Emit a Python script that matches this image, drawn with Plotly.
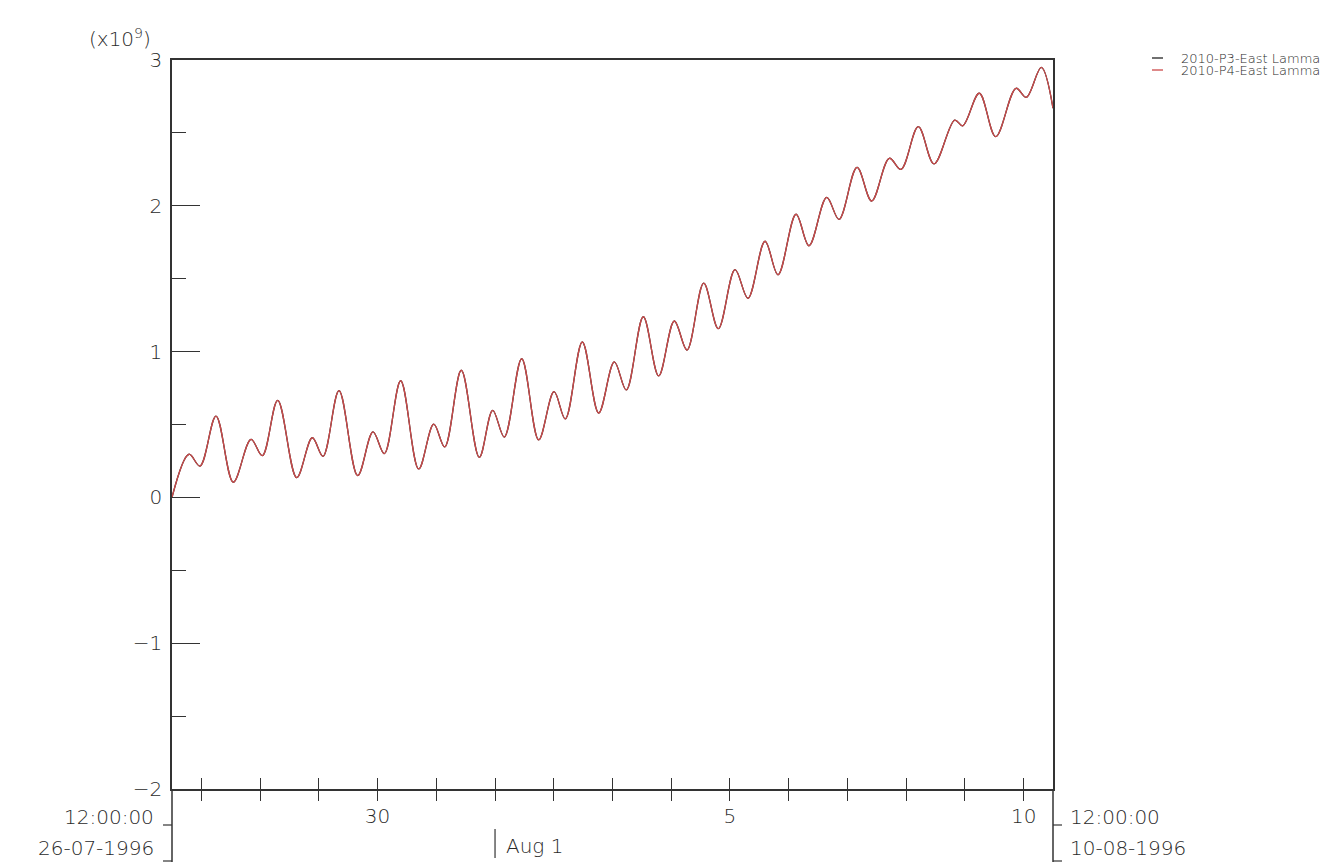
import pandas as pd
import plotly.graph_objects as go

# ---- data ----
start_time = "1996-07-26 12:00:00"
end_time = "1996-08-10 12:00:00"
# hours since start, at turning points of the tidal curve
hours = [0.0, 6.95, 11.44, 17.98, 25.05, 32.28, 36.90, 43.19, 50.96, 57.33,
         61.70, 68.24, 75.88, 82.13, 86.75, 93.45, 100.81, 106.94, 111.43, 118.22,
         125.57, 131.05, 135.79, 142.90, 149.84, 156.10, 160.72, 167.66, 174.36, 180.74,
         185.64, 192.59, 198.88, 205.26, 210.44, 217.27, 223.24, 230.06, 235.37, 242.32,
         247.63, 254.99, 260.30, 267.53, 272.56, 279.91, 285.92, 293.11, 297.89, 304.96,
         311.38, 319.84, 323.10, 329.89, 336.59, 344.88, 349.09, 355.22, 360.0]
# values in units of 1e9
p3_values = [0.000, 0.296, 0.215, 0.558, 0.104, 0.398, 0.286, 0.666, 0.135, 0.409,
             0.282, 0.732, 0.149, 0.449, 0.300, 0.800, 0.195, 0.503, 0.346, 0.872,
             0.275, 0.597, 0.414, 0.951, 0.394, 0.725, 0.538, 1.066, 0.579, 0.929,
             0.737, 1.239, 0.833, 1.210, 1.011, 1.470, 1.157, 1.562, 1.366, 1.757,
             1.527, 1.942, 1.726, 2.058, 1.907, 2.264, 2.033, 2.326, 2.250, 2.543,
             2.287, 2.588, 2.549, 2.772, 2.474, 2.806, 2.744, 2.950, 2.669]
p4_values = list(p3_values)
series_names = ["2010-P3-East Lamma", "2010-P4-East Lamma"]
series_colors = ["#222222", "#cc4a4a"]

y_ticks = [-2, -1, 0, 1, 2, 3]
y_ticktext = ["\u22122", "\u22121", "0", "1", "2", "3"]
x_tick_days = pd.date_range("1996-07-27", "1996-08-10", freq="D")
x_labelled_days = {30: "30", 5: "5", 10: "10"}

# ---- figure ----
base = pd.Timestamp(start_time)
times = base + pd.to_timedelta(hours, unit="h")

FONT = "DejaVu Sans"
AX = "#333333"
TXT = "#2a2a2a"
TF = dict(family=FONT, size=20, color=TXT, weight=300)

fig = go.Figure()
for name, vals, col in zip(series_names, [p3_values, p4_values], series_colors):
    fig.add_trace(go.Scatter(x=times, y=vals, mode="lines", name=name,
                             line=dict(color=col, width=1.3, shape="spline", smoothing=1.0),
                             showlegend=False))

ticktext = [x_labelled_days.get(d.day, "") for d in x_tick_days]

# page has an 8px body margin: shrink the figure so the plot lands where the reference has it
OFF = 8
fig.update_layout(
    width=1338 - OFF, height=865 - OFF,
    margin=dict(l=172 - OFF, r=285, t=60 - OFF, b=76),
    paper_bgcolor="white", plot_bgcolor="white",
    font=TF,
    xaxis=dict(type="date", range=[start_time, end_time], showgrid=False, zeroline=False,
               showline=True, linecolor=AX, linewidth=1.5, mirror=True,
               tickmode="array", tickvals=list(x_tick_days), ticktext=ticktext,
               ticks="inside", ticklen=11, tickwidth=1.2, tickcolor=AX,
               tickfont=TF, ticklabelstandoff=8),
    xaxis2=dict(type="date", range=[start_time, end_time], overlaying="x", side="bottom",
                showgrid=False, zeroline=False, showline=False,
                tickmode="array", tickvals=list(x_tick_days), showticklabels=False,
                ticks="outside", ticklen=11, tickwidth=1.2, tickcolor=AX),
    yaxis=dict(range=[-2, 3], showgrid=False, zeroline=False,
               showline=True, linecolor=AX, linewidth=1.5, mirror=True,
               tickmode="array", tickvals=y_ticks, ticktext=y_ticktext,
               ticks="inside", ticklen=28, tickwidth=1.2, tickcolor=AX,
               minor=dict(tickmode="linear", tick0=-2, dtick=0.5, ticks="inside",
                          ticklen=14, tickwidth=1.2, tickcolor=AX),
               tickfont=TF, ticklabelstandoff=4),
)
# invisible trace to activate xaxis2
fig.add_trace(go.Scatter(x=[start_time], y=[None], xaxis="x2", showlegend=False,
                         hoverinfo="skip"))

def px_x(px):
    return (px - 172) / 881.0

def px_y(py):
    return (789 - py) / 729.0

ann = []
ann.append(dict(text="(x10<sup>9</sup>)", x=px_x(153), y=px_y(38), xref="paper", yref="paper",
                xanchor="right", yanchor="middle", showarrow=False, font=TF))
# date/time corner labels
for txt, xp, yp, anc in [("12:00:00", 156, 817, "right"), ("26-07-1996", 156, 848, "right"),
                         ("12:00:00", 1068, 817, "left"), ("10-08-1996", 1068, 848, "left")]:
    ann.append(dict(text=txt, x=px_x(xp), y=px_y(yp), xref="paper", yref="paper",
                    xanchor=anc, yanchor="middle", showarrow=False, font=TF))
ann.append(dict(text="Aug 1", x="1996-08-01", y=px_y(846), xref="x", yref="paper",
                xanchor="left", yanchor="middle", xshift=9, showarrow=False, font=TF))
# legend (manual, to match the short dashes)
shapes = []
for i, (name, col) in enumerate(zip(series_names, series_colors)):
    ypx = 58 + 12 * i
    ann.append(dict(text=name, x=px_x(1179), y=px_y(ypx), xref="paper", yref="paper",
                    xanchor="left", yanchor="middle", showarrow=False,
                    font=dict(family=FONT, size=13, color=TXT, weight=300)))
    shapes.append(dict(type="line", xref="paper", yref="paper", x0=px_x(1152), x1=px_x(1163),
                       y0=px_y(ypx), y1=px_y(ypx), line=dict(color=col, width=1.3)))
fig.update_layout(annotations=ann)

line = dict(color=AX, width=1.5)
# axis lines extended below the plot
shapes.append(dict(type="line", xref="paper", yref="paper", x0=0, x1=0,
                   y0=0, y1=px_y(862), line=line))
shapes.append(dict(type="line", xref="paper", yref="paper", x0=1, x1=1,
                   y0=0, y1=px_y(862), line=line))
# small marks beside date/time labels
for yp in (825, 861):
    shapes.append(dict(type="line", xref="paper", yref="paper", x0=px_x(163), x1=px_x(172),
                       y0=px_y(yp), y1=px_y(yp), line=dict(color=AX, width=1.2)))
    shapes.append(dict(type="line", xref="paper", yref="paper", x0=px_x(1053), x1=px_x(1062),
                       y0=px_y(yp), y1=px_y(yp), line=dict(color=AX, width=1.2)))
# month marker
shapes.append(dict(type="line", xref="x", yref="paper", x0="1996-08-01", x1="1996-08-01",
                   y0=px_y(829), y1=px_y(858), line=dict(color=AX, width=1.2)))
fig.update_layout(shapes=shapes)

fig.write_html("out.html")
